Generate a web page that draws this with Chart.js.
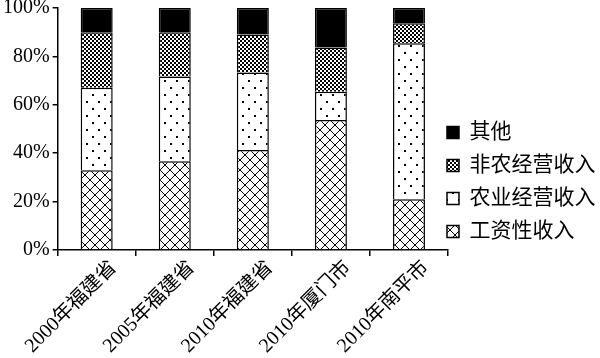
<!DOCTYPE html>
<html>
<head>
<meta charset="utf-8">
<script src="https://cdn.jsdelivr.net/npm/chart.js@4/dist/chart.umd.min.js"></script>
<style>
html,body{margin:0;padding:0;background:#fff;}
#wrap{width:600px;height:358px;}
</style>
</head>
<body>
<div id="wrap"><canvas id="c" width="600" height="358"></canvas></div>
<script>
const categories = ['2000年福建省','2005年福建省','2010年福建省','2010年厦门市','2010年南平市'];
const wageIncome = [33, 36.7, 41.3, 53.7, 21];
const farmIncome = [34, 35, 32, 11.7, 64.4];
const nonFarmIncome = [23, 18.3, 15.7, 18.3, 8.3];
const otherIncome = [10, 10, 11, 16.3, 6.3];
const seriesNames = ['工资性收入','农业经营收入','非农经营收入','其他'];
const yTicks = [0,20,40,60,80,100];

function makePattern(w, h, draw) {
  const cv = document.createElement('canvas');
  cv.width = w; cv.height = h;
  const g = cv.getContext('2d');
  g.fillStyle = '#fff'; g.fillRect(0,0,w,h);
  g.fillStyle = '#000';
  draw(g, w, h);
  return g.createPattern(cv, 'repeat');
}
const ctx0 = document.getElementById('c').getContext('2d');
const crossPat = makePattern(10, 10, (g) => {
  for (let i = 0; i < 10; i++) {
    g.fillRect(i, i, 1, 1);
    g.fillRect(9 - i, i, 1, 1);
  }
});
const dotPat = makePattern(12, 14, (g) => {
  g.fillRect(2, 3, 2, 2);
  g.fillRect(8, 10, 2, 2);
});
const checkPat = makePattern(4, 4, (g) => {
  g.fillRect(0, 0, 2, 2);
  g.fillRect(2, 2, 2, 2);
});

const fontFam = '"Liberation Serif", "Noto Sans CJK SC", serif';

const legendTweak = {
  id: 'legendTweak',
  beforeLayout(chart) {
    const lg = chart.legend;
    if (lg && !lg._patched) {
      const orig = lg.fit;
      lg.fit = function() { orig.call(this); this.width = 152; };
      lg._patched = true;
    }
  },
  afterLayout(chart) {
    const lg = chart.legend;
    if (lg) {
      lg.left -= 13;
      lg.width += 13;
      lg.top += 3;
      lg.bottom += 3;
    }
  }
};

new Chart(ctx0, {
  type: 'bar',
  data: {
    labels: categories,
    datasets: [
      {label: seriesNames[0], data: wageIncome, backgroundColor: crossPat},
      {label: seriesNames[1], data: farmIncome, backgroundColor: dotPat},
      {label: seriesNames[2], data: nonFarmIncome, backgroundColor: checkPat},
      {label: seriesNames[3], data: otherIncome, backgroundColor: '#000'}
    ].map(d => Object.assign(d, {borderColor: '#000', borderWidth: 1.5, categoryPercentage: 1, barPercentage: 0.41}))
  },
  plugins: [legendTweak],
  options: {
    responsive: false,
    animation: false,
    devicePixelRatio: 1,
    layout: {padding: {top: 0, right: 0, left: 0, bottom: 0}},
    plugins: {
      legend: {
        position: 'right',
        align: 'center',
        reverse: true,
        labels: {
          color: '#000',
          font: {family: fontFam, size: 21},
          boxWidth: 12,
          boxHeight: 12,
          padding: 12
        }
      },
      tooltip: {enabled: false}
    },
    scales: {
      x: {
        stacked: true,
        grid: {display: true, drawOnChartArea: false, drawTicks: true, tickLength: 6, offset: true, color: '#000', lineWidth: 1.5},
        border: {display: true, color: '#000', width: 1.5},
        ticks: {color: '#000', font: {family: fontFam, size: 20, lineHeight: 1}, minRotation: 45, maxRotation: 45, padding: 1.5, labelOffset: 17, autoSkip: false}
      },
      y: {
        stacked: true,
        min: 0, max: 100,
        afterBuildTicks: (axis) => { axis.ticks = yTicks.map(v => ({value: v})); },
        afterFit: (scale) => { scale.paddingTop = 8; },
        grid: {display: true, drawOnChartArea: false, drawTicks: true, tickLength: 5, color: '#000', lineWidth: 1.5},
        border: {display: true, color: '#000', width: 1.5},
        ticks: {color: '#000', font: {family: fontFam, size: 20}, padding: 3, callback: v => v + '%'}
      }
    }
  }
});
</script>
</body>
</html>
